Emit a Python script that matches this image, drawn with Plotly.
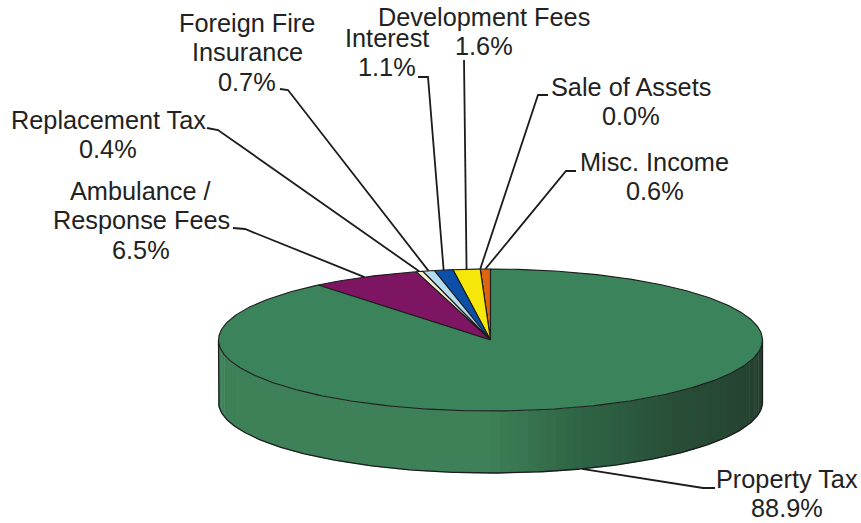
import math
import plotly.graph_objects as go

# ---- data, in drawing order: counter-clockwise from 12 o'clock
labels = ["Misc. Income", "Sale of Assets", "Development Fees", "Interest",
          "Foreign Fire<br>Insurance", "Replacement Tax",
          "Ambulance /<br>Response Fees", "Property Tax"]
values = [0.6, 0.0, 1.6, 1.1, 0.7, 0.4, 6.5, 88.9]
colors = ["#DD6410", "#4A4A20", "#F6E70A", "#0C4FA8", "#B4DCF0", "#F4F0D2", "#7E1562", "#3B835A"]

# ---- geometry and style of the tilted disc (pixel-valued axes)
CX, CY, RX, RY, DEPTH = 490.5, 340, 272, 71, 62
LINE = "#1c1c1c"
LINE_PITCH = 29.3
side_stops = [(0.0, (62, 128, 88)), (0.5, (62, 128, 88)), (0.6, (48, 102, 70)),
              (0.74, (40, 78, 56)), (1.0, (36, 62, 46))]
label_pos = [(654.5, 162), (631, 87), (484, 17), (387, 38),
             (247, 23), (108, 120), (141, 191), (787, 479)]
leader_knots = [[(576, 171), (566, 171)], [(548, 95), (538, 95)], [(464, 60)], [(418, 77), (428, 77)],
                [(280, 89), (288, 90)], [(207, 128), (218, 130)], [(233, 228), (245, 229)],
                [(715, 488), (703, 488)]]
total = sum(values)


def rim(frac, dy=0.0):
    """Point on the rim, frac of the circle counter-clockwise from the top."""
    a = 2 * math.pi * frac
    return CX - RX * math.sin(a), CY - RY * math.cos(a) + dy


def arc(f0, f1, dy=0.0, step=0.002):
    n = max(2, int(abs(f1 - f0) / step) + 1)
    return [rim(f0 + (f1 - f0) * i / (n - 1), dy) for i in range(n)]


def side_colour(t):
    for (t0, c0), (t1, c1) in zip(side_stops, side_stops[1:]):
        if t <= t1:
            u = (t - t0) / (t1 - t0)
            return "rgb(%d,%d,%d)" % tuple(c0[i] + (c1[i] - c0[i]) * u for i in range(3))
    return "rgb(%d,%d,%d)" % side_stops[-1][1]


def poly(points, fill=None, width=1.3, color=LINE):
    return go.Scatter(x=[p[0] for p in points], y=[p[1] for p in points], mode="lines",
                      fill="toself" if fill else "none", fillcolor=fill,
                      line=dict(color=color, width=width), hoverinfo="skip", showlegend=False)


fig = go.Figure()

# side wall: front half of the rim, left (frac .25) to right (frac .75)
strips = 90
for i in range(strips):
    f0 = 0.25 + 0.5 * i / strips
    f1 = 0.25 + 0.5 * (i + 1) / strips + 0.001
    col = side_colour(i / (strips - 1))
    fig.add_trace(poly(arc(f0, f1) + arc(f1, f0, DEPTH), fill=col, width=0.4, color=col))
outline = arc(0.25, 0.75, DEPTH) + [rim(0.75)]
fig.add_trace(poly([rim(0.25)] + outline, width=1.3))

# top face slices
cum = 0.0
fracs = []
for val, col in zip(values, colors):
    f0, f1 = cum / total, (cum + val) / total
    fracs.append((f0 + f1) / 2)
    fig.add_trace(poly([(CX, CY)] + arc(f0, f1) + [(CX, CY)], fill=col, width=1.1))
    cum += val

# leader lines
for i, (knots, frac) in enumerate(zip(leader_knots, fracs)):
    dy = DEPTH if labels[i] == "Property Tax" else 0.0
    fig.add_trace(poly(knots + [rim(frac, dy)], width=1.8))

# labels, one annotation per text line so the line pitch can match
for lab, val, (x, y) in zip(labels, values, label_pos):
    for k, line in enumerate(lab.split("<br>") + [f"{val:.1f}%"]):
        fig.add_annotation(x=x, y=y + k * LINE_PITCH, xref="x", yref="y", text=line, showarrow=False,
                           font=dict(family="Liberation Sans, Arial, sans-serif", size=25.3, color="#222222"),
                           xanchor="center", yanchor="middle")

fig.update_layout(width=861, height=523, autosize=False, margin=dict(l=0, r=0, t=0, b=0),
                  paper_bgcolor="white", plot_bgcolor="white", showlegend=False,
                  xaxis=dict(range=[0, 861], visible=False, fixedrange=True),
                  yaxis=dict(range=[523, 0], visible=False, fixedrange=True))
fig.write_html("out.html", config={"displayModeBar": False},
               post_script="document.body.style.margin='0';document.body.style.overflow='hidden';")
